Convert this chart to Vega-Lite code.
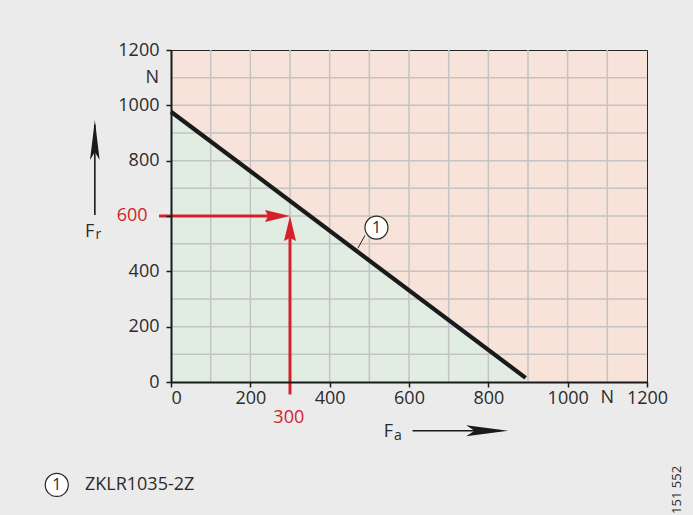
{
  "$schema": "https://vega.github.io/schema/vega-lite/v6.json",
  "width": 476,
  "height": 332,
  "autosize": {"type": "none"},
  "padding": {"left": 171, "top": 50, "right": 46, "bottom": 133},
  "background": "#ebebeb",
  "config": {
    "view": {"fill": "#f8e3db", "stroke": "#262626", "strokeWidth": 1},
    "font": "Open Sans",
    "text": {"font": "Open Sans", "color": "#2b2b2b"}
  },
  "datasets": {
    "curve": [{"x": 0, "y": 977}, {"x": 894, "y": 15}],
    "grid": [{"v": 100}, {"v": 200}, {"v": 300}, {"v": 400}, {"v": 500}, {"v": 600}, {"v": 700}, {"v": 800}, {"v": 900}, {"v": 1000}, {"v": 1100}],
    "redLines": [
      {"id": "h", "x": -30, "y": 600}, {"id": "h", "x": 272, "y": 600},
      {"id": "v", "x": 300, "y": -45}, {"id": "v", "x": 300, "y": 560}
    ],
    "tip": [{"x": 300, "y": 600}],
    "blackLines": [
      {"id": "r", "x": -192, "y": 604}, {"id": "r", "x": -192, "y": 930},
      {"id": "a", "x": 609, "y": -176}, {"id": "a", "x": 830, "y": -176}
    ],
    "tipUp": [{"x": -192, "y": 947}],
    "tipRight": [{"x": 850, "y": -176}],
    "redText": [{"x": -98, "y": 600, "t": "600"}, {"x": 297, "y": -131, "t": "300"}],
    "unitX": [{"x": 1100, "y": -25, "t": "N"}],
    "unitY": [{"x": -30, "y": 1100, "t": "N"}],
    "bigF": [{"x": -205, "y": 523, "t": "F"}, {"x": 548, "y": -198, "t": "F"}],
    "subs": [{"x": -183, "y": 516, "t": "r"}, {"x": 572, "y": -210, "t": "a"}],
    "circles": [{"x": 518, "y": 558, "t": "1"}, {"x": -288, "y": -372, "t": "1"}],
    "legend": [{"x": -217, "y": -372, "t": "ZKLR1035-2Z"}],
    "code": [{"x": 1276, "y": -390, "t": "151 552"}],
    "leader": [{"x": 489, "y": 530, "x2": 471, "y2": 483}]
  },
  "layer": [
    {
      "data": {"name": "curve"},
      "mark": {"type": "area", "color": "#e1ece3", "opacity": 1},
      "encoding": {
        "x": {
          "field": "x", "type": "quantitative",
          "scale": {"domain": [0, 1200], "nice": false, "zero": false},
          "axis": {
            "title": null, "grid": false, "format": "d",
            "values": [0, 100, 200, 300, 400, 500, 600, 700, 800, 900, 1000, 1100, 1200],
            "labelExpr": "datum.value % 200 == 0 ? datum.label : ''",
            "labelAlign": {"condition": {"test": "datum.value == 0", "value": "left"}, "value": "center"},
            "domainColor": "#1a1a1a", "domainWidth": 2,
            "tickColor": "#1a1a1a", "tickWidth": 1.5, "tickSize": 5,
            "labelFont": "Open Sans", "labelFontSize": 18, "labelColor": "#2b2b2b",
            "labelPadding": 2, "labelOverlap": false, "labelFlush": false, "zindex": 1
          }
        },
        "y": {
          "field": "y", "type": "quantitative",
          "scale": {"domain": [0, 1200], "nice": false, "zero": false},
          "axis": {
            "title": null, "grid": false, "format": "d",
            "values": [0, 100, 200, 300, 400, 500, 600, 700, 800, 900, 1000, 1100, 1200],
            "labelExpr": "datum.value % 200 == 0 && datum.value != 600 ? datum.label : ''",
            "domainColor": "#1a1a1a", "domainWidth": 2,
            "tickColor": "#1a1a1a", "tickWidth": 1.5, "tickSize": 5,
            "labelFont": "Open Sans", "labelFontSize": 18, "labelColor": "#2b2b2b",
            "labelPadding": 7, "labelOverlap": false, "labelFlush": false, "zindex": 1
          }
        },
        "y2": {"datum": 0}
      }
    },
    {
      "data": {"name": "grid"},
      "mark": {"type": "rule", "color": "#c3c3c3", "strokeWidth": 1.5},
      "encoding": {
        "x": {"field": "v", "type": "quantitative"}
      }
    },
    {
      "data": {"name": "grid"},
      "mark": {"type": "rule", "color": "#c3c3c3", "strokeWidth": 1.5},
      "encoding": {
        "y": {"field": "v", "type": "quantitative"}
      }
    },
    {
      "data": {"name": "curve"},
      "mark": {"type": "line", "color": "#1a1a1a", "strokeWidth": 4.2, "strokeCap": "butt"},
      "encoding": {
        "x": {"field": "x", "type": "quantitative"},
        "y": {"field": "y", "type": "quantitative"}
      }
    },
    {
      "data": {"name": "leader"},
      "mark": {"type": "rule", "color": "#262626", "strokeWidth": 1},
      "encoding": {
        "x": {"field": "x", "type": "quantitative"},
        "y": {"field": "y", "type": "quantitative"},
        "x2": {"field": "x2"},
        "y2": {"field": "y2"}
      }
    },
    {
      "data": {"name": "redLines"},
      "mark": {"type": "line", "color": "#d3222a", "strokeWidth": 3, "strokeCap": "butt"},
      "encoding": {
        "x": {"field": "x", "type": "quantitative"},
        "y": {"field": "y", "type": "quantitative"},
        "detail": {"field": "id"}
      }
    },
    {
      "data": {"name": "tip"},
      "mark": {"type": "point", "shape": "M0,0L-2,-0.48L-1.75,0L-2,0.48Z", "size": 625, "filled": true, "color": "#d3222a", "opacity": 1, "strokeWidth": 0},
      "encoding": {
        "x": {"field": "x", "type": "quantitative"},
        "y": {"field": "y", "type": "quantitative"}
      }
    },
    {
      "data": {"name": "tip"},
      "mark": {"type": "point", "shape": "M0,0L-0.48,2L0,1.75L0.48,2Z", "size": 625, "filled": true, "color": "#d3222a", "opacity": 1, "strokeWidth": 0},
      "encoding": {
        "x": {"field": "x", "type": "quantitative"},
        "y": {"field": "y", "type": "quantitative"}
      }
    },
    {
      "data": {"name": "blackLines"},
      "mark": {"type": "line", "color": "#1a1a1a", "strokeWidth": 1.6, "strokeCap": "butt"},
      "encoding": {
        "x": {"field": "x", "type": "quantitative"},
        "y": {"field": "y", "type": "quantitative"},
        "detail": {"field": "id"}
      }
    },
    {
      "data": {"name": "tipUp"},
      "mark": {"type": "point", "shape": "M0,0L-0.24,2L0,1.6L0.24,2Z", "size": 1600, "filled": true, "color": "#1a1a1a", "opacity": 1, "strokeWidth": 0},
      "encoding": {
        "x": {"field": "x", "type": "quantitative"},
        "y": {"field": "y", "type": "quantitative"}
      }
    },
    {
      "data": {"name": "tipRight"},
      "mark": {"type": "point", "shape": "M0,0L-2,-0.26L-1.6,0L-2,0.26Z", "size": 1764, "filled": true, "color": "#1a1a1a", "opacity": 1, "strokeWidth": 0},
      "encoding": {
        "x": {"field": "x", "type": "quantitative"},
        "y": {"field": "y", "type": "quantitative"}
      }
    },
    {
      "data": {"name": "redText"},
      "mark": {"type": "text", "fontSize": 18, "color": "#d3222a", "align": "center", "baseline": "middle"},
      "encoding": {
        "x": {"field": "x", "type": "quantitative"},
        "y": {"field": "y", "type": "quantitative"},
        "text": {"field": "t"}
      }
    },
    {
      "data": {"name": "unitX"},
      "mark": {"type": "text", "fontSize": 18, "align": "center", "baseline": "top"},
      "encoding": {
        "x": {"field": "x", "type": "quantitative"},
        "y": {"field": "y", "type": "quantitative"},
        "text": {"field": "t"}
      }
    },
    {
      "data": {"name": "unitY"},
      "mark": {"type": "text", "fontSize": 18, "align": "right", "baseline": "middle"},
      "encoding": {
        "x": {"field": "x", "type": "quantitative"},
        "y": {"field": "y", "type": "quantitative"},
        "text": {"field": "t"}
      }
    },
    {
      "data": {"name": "bigF"},
      "mark": {"type": "text", "fontSize": 18, "align": "center", "baseline": "alphabetic"},
      "encoding": {
        "x": {"field": "x", "type": "quantitative"},
        "y": {"field": "y", "type": "quantitative"},
        "text": {"field": "t"}
      }
    },
    {
      "data": {"name": "subs"},
      "mark": {"type": "text", "fontSize": 14, "align": "center", "baseline": "alphabetic"},
      "encoding": {
        "x": {"field": "x", "type": "quantitative"},
        "y": {"field": "y", "type": "quantitative"},
        "text": {"field": "t"}
      }
    },
    {
      "data": {"name": "circles"},
      "mark": {"type": "point", "shape": "circle", "size": 529, "filled": false, "fill": "#ffffff", "fillOpacity": 1, "stroke": "#262626", "strokeWidth": 1.2, "opacity": 1},
      "encoding": {
        "x": {"field": "x", "type": "quantitative"},
        "y": {"field": "y", "type": "quantitative"}
      }
    },
    {
      "data": {"name": "circles"},
      "mark": {"type": "text", "fontSize": 16, "align": "center", "baseline": "middle"},
      "encoding": {
        "x": {"field": "x", "type": "quantitative"},
        "y": {"field": "y", "type": "quantitative"},
        "text": {"field": "t"}
      }
    },
    {
      "data": {"name": "legend"},
      "mark": {"type": "text", "fontSize": 18, "align": "left", "baseline": "middle"},
      "encoding": {
        "x": {"field": "x", "type": "quantitative"},
        "y": {"field": "y", "type": "quantitative"},
        "text": {"field": "t"}
      }
    },
    {
      "data": {"name": "code"},
      "mark": {"type": "text", "fontSize": 13, "align": "center", "baseline": "middle", "angle": 270},
      "encoding": {
        "x": {"field": "x", "type": "quantitative"},
        "y": {"field": "y", "type": "quantitative"},
        "text": {"field": "t"}
      }
    }
  ]
}
